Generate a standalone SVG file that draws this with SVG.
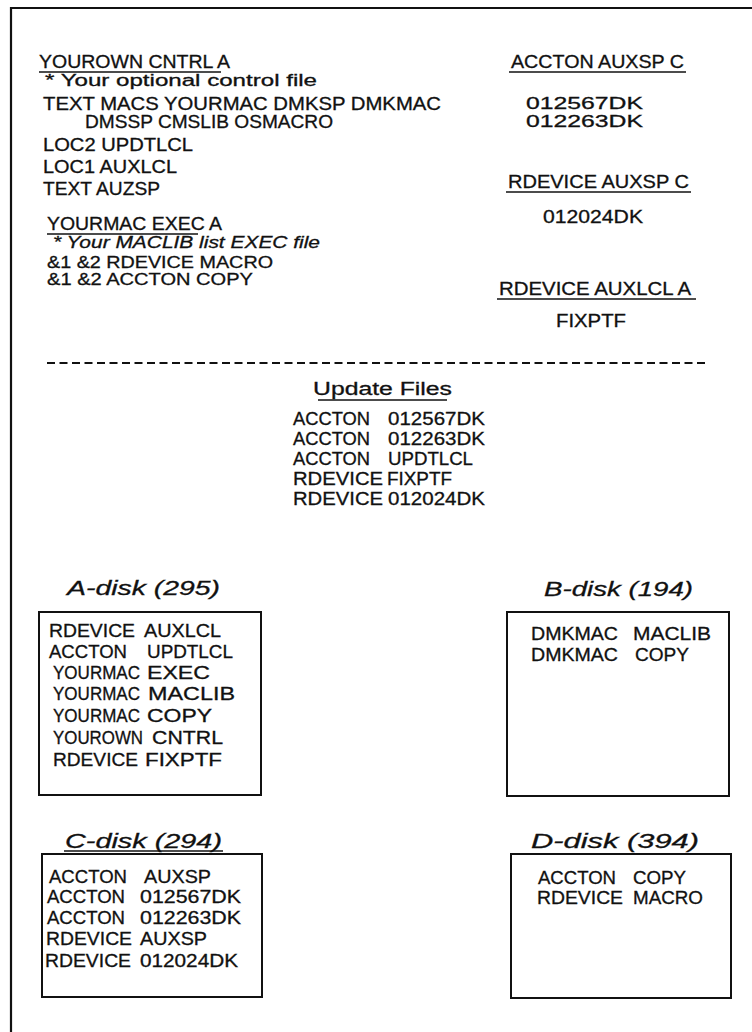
<svg xmlns="http://www.w3.org/2000/svg" width="752" height="1032" viewBox="0 0 752 1032">
<style>
text{font-family:"Liberation Sans",Arial,sans-serif;font-size:18px;fill:#111;stroke:#111;stroke-width:0.3}
.s{font-size:16px}
.m{font-size:17px}
.i{font-style:italic}
.lab{font-style:italic;font-size:20px}
.ul{stroke:#111;stroke-width:1.6}
.box{fill:none;stroke:#111;stroke-width:2}
.frame{fill:none;stroke:#111;stroke-width:2.2}
.dash{stroke:#111;stroke-width:1.8;stroke-dasharray:8 4.5}
</style>
<rect width="752" height="1032" fill="#fff"/>
<path class="frame" d="M11,1032 V8 H752"/>

<g id="yourown-cntrl">
<text x="39" y="68" textLength="191" lengthAdjust="spacingAndGlyphs">YOUROWN CNTRL A</text>
<line class="ul" x1="39" y1="72" x2="221" y2="72"/>
<text class="s" x="45" y="86" textLength="272" lengthAdjust="spacingAndGlyphs">* Your optional control file</text>
<text x="43" y="110" textLength="398" lengthAdjust="spacingAndGlyphs">TEXT MACS YOURMAC DMKSP DMKMAC</text>
<text x="85" y="128" textLength="248" lengthAdjust="spacingAndGlyphs">DMSSP CMSLIB OSMACRO</text>
<text x="43" y="151" textLength="150" lengthAdjust="spacingAndGlyphs">LOC2 UPDTLCL</text>
<text x="43" y="173" textLength="134" lengthAdjust="spacingAndGlyphs">LOC1 AUXLCL</text>
<text x="43" y="195" textLength="117" lengthAdjust="spacingAndGlyphs">TEXT AUZSP</text>
</g>

<g id="yourmac-exec">
<text x="47" y="230" textLength="175" lengthAdjust="spacingAndGlyphs">YOURMAC EXEC A</text>
<line class="ul" x1="47" y1="234" x2="198" y2="234"/>
<text class="s i" x="53" y="248" textLength="267" lengthAdjust="spacingAndGlyphs">* Your MACLIB list EXEC file</text>
<text class="m" x="47" y="268" textLength="226" lengthAdjust="spacingAndGlyphs">&amp;1 &amp;2 RDEVICE MACRO</text>
<text class="m" x="47" y="285" textLength="206" lengthAdjust="spacingAndGlyphs">&amp;1 &amp;2 ACCTON COPY</text>
</g>

<g id="accton-auxsp">
<text x="511" y="68" textLength="173" lengthAdjust="spacingAndGlyphs">ACCTON AUXSP C</text>
<line class="ul" x1="509" y1="72" x2="686" y2="72"/>
<text class="m" x="526" y="109" textLength="117" lengthAdjust="spacingAndGlyphs">012567DK</text>
<text class="m" x="526" y="127" textLength="117" lengthAdjust="spacingAndGlyphs">012263DK</text>
</g>

<g id="rdevice-auxsp">
<text x="508" y="188" textLength="181" lengthAdjust="spacingAndGlyphs">RDEVICE AUXSP C</text>
<line class="ul" x1="506" y1="192" x2="691" y2="192"/>
<text x="543" y="223" textLength="100" lengthAdjust="spacingAndGlyphs">012024DK</text>
</g>

<g id="rdevice-auxlcl">
<text x="499" y="295" textLength="192" lengthAdjust="spacingAndGlyphs">RDEVICE AUXLCL A</text>
<line class="ul" x1="497" y1="299" x2="696" y2="299"/>
<text x="556" y="327" textLength="70" lengthAdjust="spacingAndGlyphs">FIXPTF</text>
</g>

<line id="separator" class="dash" x1="47" y1="363" x2="708" y2="363"/>

<g id="update-files">
<text x="313" y="395" textLength="139" lengthAdjust="spacingAndGlyphs">Update Files</text>
<line class="ul" x1="318" y1="400" x2="447" y2="400"/>
<text x="293" y="425" textLength="77" lengthAdjust="spacingAndGlyphs">ACCTON</text><text x="388" y="425" textLength="97" lengthAdjust="spacingAndGlyphs">012567DK</text>
<text x="293" y="445" textLength="77" lengthAdjust="spacingAndGlyphs">ACCTON</text><text x="388" y="445" textLength="97" lengthAdjust="spacingAndGlyphs">012263DK</text>
<text x="293" y="465" textLength="77" lengthAdjust="spacingAndGlyphs">ACCTON</text><text x="388" y="465" textLength="85" lengthAdjust="spacingAndGlyphs">UPDTLCL</text>
<text x="293" y="485" textLength="90" lengthAdjust="spacingAndGlyphs">RDEVICE</text><text x="387" y="485" textLength="65" lengthAdjust="spacingAndGlyphs">FIXPTF</text>
<text x="293" y="505" textLength="90" lengthAdjust="spacingAndGlyphs">RDEVICE</text><text x="388" y="505" textLength="97" lengthAdjust="spacingAndGlyphs">012024DK</text>
</g>

<g id="a-disk">
<text class="lab" x="67" y="595" textLength="153" lengthAdjust="spacingAndGlyphs">A-disk (295)</text>
<rect class="box" x="39" y="612" width="222" height="183"/>
<text x="49" y="637" textLength="86" lengthAdjust="spacingAndGlyphs">RDEVICE</text><text x="144" y="637" textLength="77" lengthAdjust="spacingAndGlyphs">AUXLCL</text>
<text x="49" y="658" textLength="78" lengthAdjust="spacingAndGlyphs">ACCTON</text><text x="147" y="658" textLength="86" lengthAdjust="spacingAndGlyphs">UPDTLCL</text>
<text x="53" y="679" textLength="87" lengthAdjust="spacingAndGlyphs">YOURMAC</text><text x="147" y="679" textLength="63" lengthAdjust="spacingAndGlyphs">EXEC</text>
<text x="53" y="700" textLength="87" lengthAdjust="spacingAndGlyphs">YOURMAC</text><text x="148" y="700" textLength="87" lengthAdjust="spacingAndGlyphs">MACLIB</text>
<text x="53" y="722" textLength="87" lengthAdjust="spacingAndGlyphs">YOURMAC</text><text x="147" y="722" textLength="65" lengthAdjust="spacingAndGlyphs">COPY</text>
<text x="53" y="744" textLength="90" lengthAdjust="spacingAndGlyphs">YOUROWN</text><text x="152" y="744" textLength="71" lengthAdjust="spacingAndGlyphs">CNTRL</text>
<text x="53" y="766" textLength="85" lengthAdjust="spacingAndGlyphs">RDEVICE</text><text x="145" y="766" textLength="77" lengthAdjust="spacingAndGlyphs">FIXPTF</text>
</g>

<g id="b-disk">
<text class="lab" x="544" y="596" textLength="149" lengthAdjust="spacingAndGlyphs">B-disk (194)</text>
<rect class="box" x="507" y="612" width="222" height="184"/>
<text x="531" y="640" textLength="87" lengthAdjust="spacingAndGlyphs">DMKMAC</text><text x="633" y="640" textLength="78" lengthAdjust="spacingAndGlyphs">MACLIB</text>
<text x="531" y="661" textLength="87" lengthAdjust="spacingAndGlyphs">DMKMAC</text><text x="635" y="661" textLength="54" lengthAdjust="spacingAndGlyphs">COPY</text>
</g>

<g id="c-disk">
<text class="lab" x="65" y="848" textLength="157" lengthAdjust="spacingAndGlyphs">C-disk (294)</text>
<line class="ul" x1="64" y1="851" x2="223" y2="851"/>
<rect class="box" x="42" y="854" width="220" height="143"/>
<text x="49" y="883" textLength="78" lengthAdjust="spacingAndGlyphs">ACCTON</text><text x="144" y="883" textLength="67" lengthAdjust="spacingAndGlyphs">AUXSP</text>
<text x="47" y="903" textLength="78" lengthAdjust="spacingAndGlyphs">ACCTON</text><text x="140" y="903" textLength="101" lengthAdjust="spacingAndGlyphs">012567DK</text>
<text x="47" y="924" textLength="78" lengthAdjust="spacingAndGlyphs">ACCTON</text><text x="140" y="924" textLength="101" lengthAdjust="spacingAndGlyphs">012263DK</text>
<text x="46" y="945" textLength="86" lengthAdjust="spacingAndGlyphs">RDEVICE</text><text x="140" y="945" textLength="67" lengthAdjust="spacingAndGlyphs">AUXSP</text>
<text x="45" y="967" textLength="86" lengthAdjust="spacingAndGlyphs">RDEVICE</text><text x="140" y="967" textLength="98" lengthAdjust="spacingAndGlyphs">012024DK</text>
</g>

<g id="d-disk">
<text class="lab" x="531" y="848" textLength="168" lengthAdjust="spacingAndGlyphs">D-disk (394)</text>
<rect class="box" x="511" y="854" width="220" height="144"/>
<text x="538" y="884" textLength="78" lengthAdjust="spacingAndGlyphs">ACCTON</text><text x="633" y="884" textLength="53" lengthAdjust="spacingAndGlyphs">COPY</text>
<text x="537" y="904" textLength="86" lengthAdjust="spacingAndGlyphs">RDEVICE</text><text x="633" y="904" textLength="70" lengthAdjust="spacingAndGlyphs">MACRO</text>
</g>

<g id="connectors"/>
</svg>
